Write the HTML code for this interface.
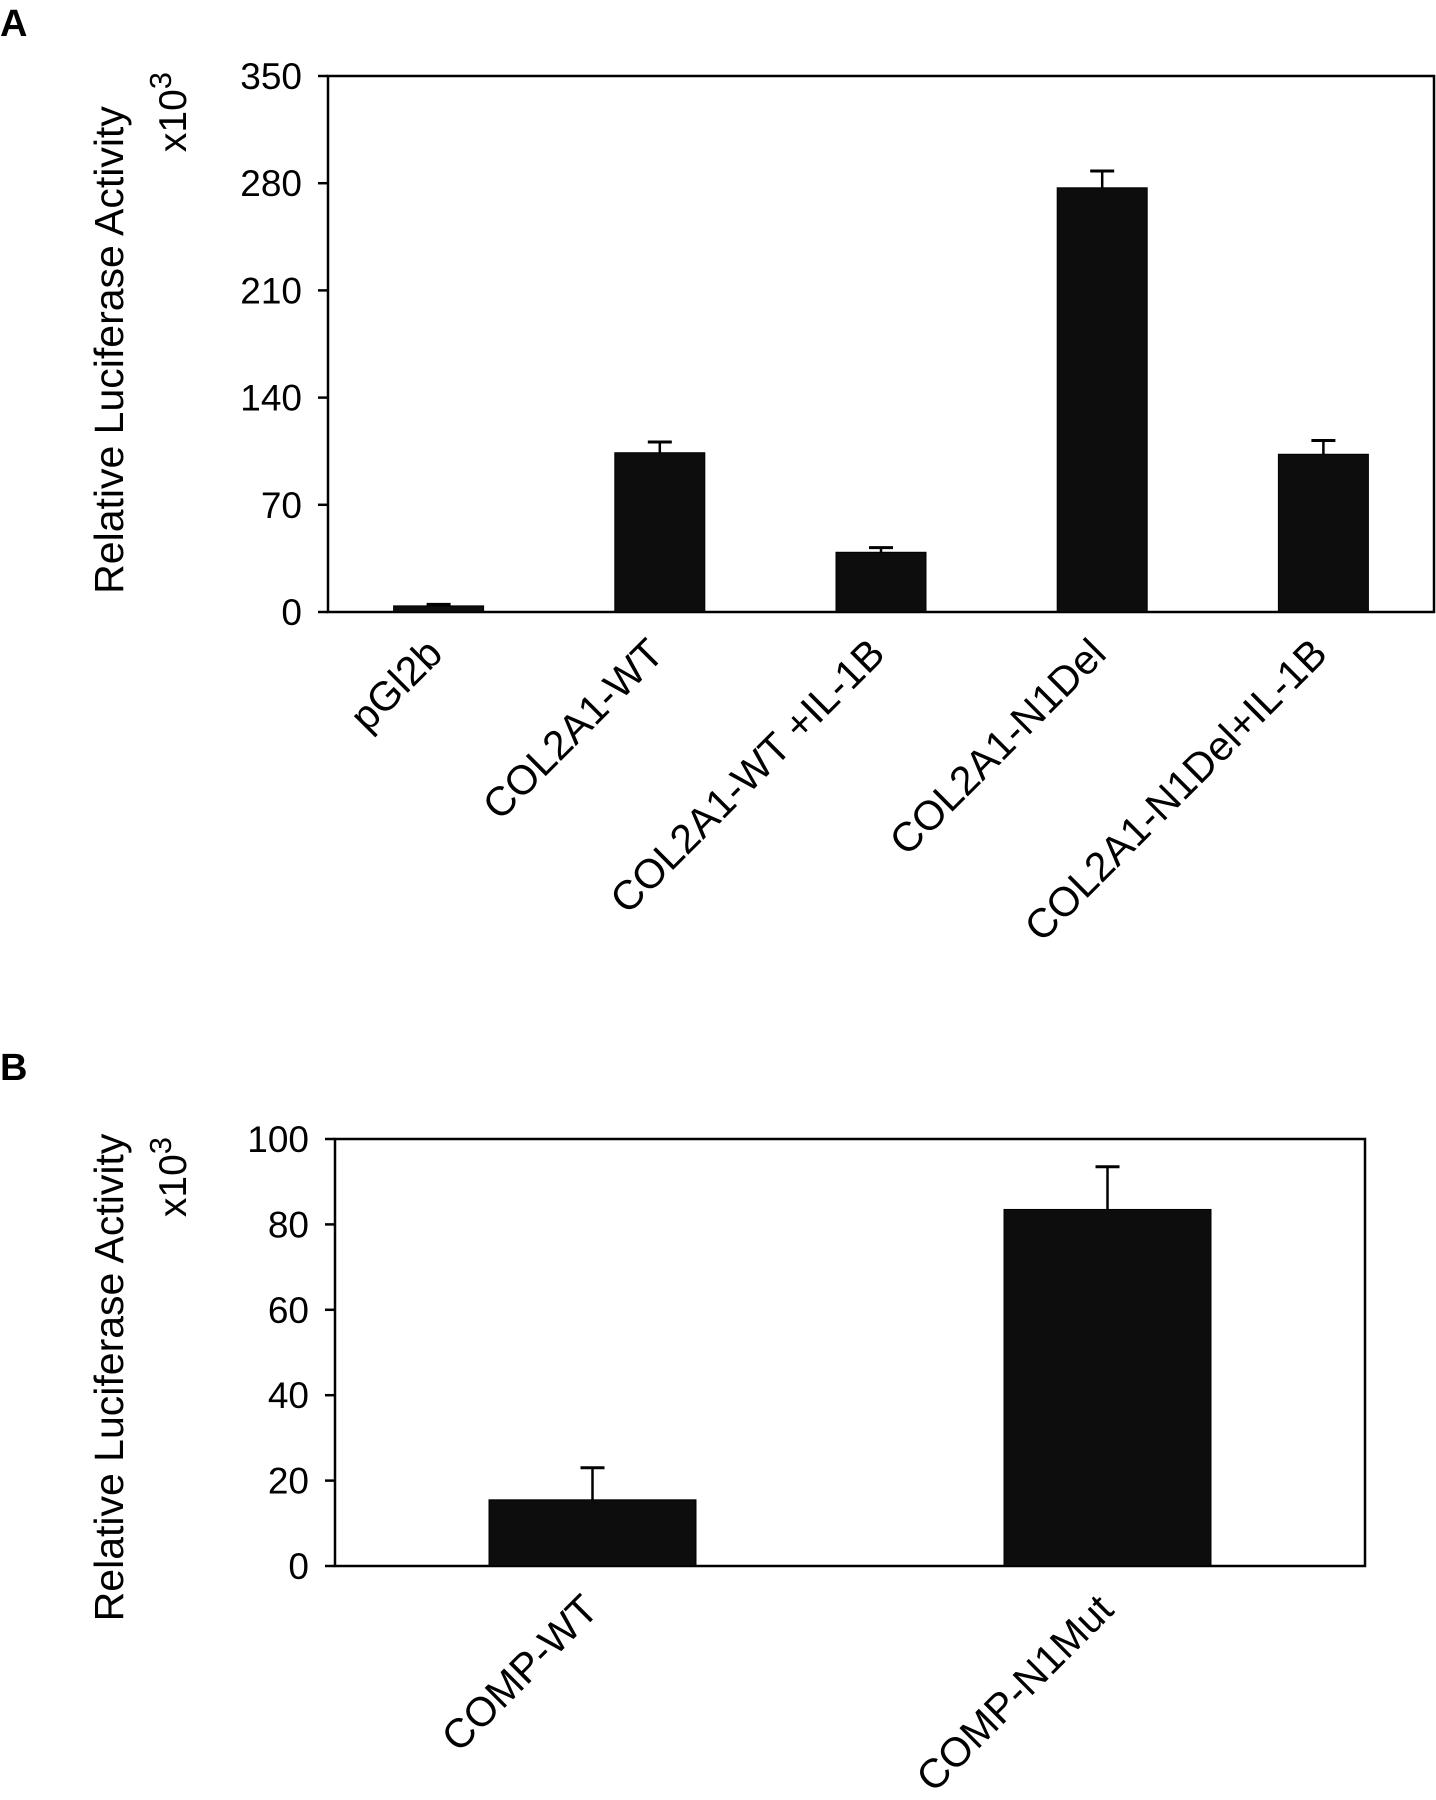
<!DOCTYPE html>
<html><head><meta charset="utf-8"><style>
html,body{margin:0;padding:0;background:#fff}
svg{display:block;font-family:"Liberation Sans",Arial,sans-serif}
</style></head><body>
<svg id="fig" width="1436" height="1800" viewBox="0 0 1436 1800">
<text x="0" y="36" font-size="38" font-weight="bold">A</text>
<text x="0" y="1080" font-size="38" font-weight="bold">B</text>
<g id="chartA"></g>
<g id="chartB"></g>
</svg>
<script>
const catsA=["pGl2b","COL2A1-WT","COL2A1-WT +IL-1B","COL2A1-N1Del","COL2A1-N1Del+IL-1B"];
const valsA=[4,104,39,277,103];
const errA=[5,111,42,288,112];
const ticksA=[0,70,140,210,280,350];
const catsB=["COMP-WT","COMP-N1Mut"];
const valsB=[15.5,83.5];
const errB=[23,93.5];
const ticksB=[0,20,40,60,80,100];
const NS="http://www.w3.org/2000/svg";
function mk(p,t,a){const e=document.createElementNS(NS,t);for(const k in a)e.setAttribute(k,a[k]);p.appendChild(e);return e;}
function draw(g,cfg,cats,vals,errs,ticks){
  const {x0,x1,y0,y1,max,bw,key}=cfg;
  const y=v=>y1-(v/max)*(y1-y0);
  const step=(x1-x0)/cats.length;
  const cx=i=>x0+step*(i+0.5);
  const f=mk(g,"rect",{x:x0,y:y0,width:x1-x0,height:y1-y0,fill:"none",stroke:"#000","stroke-width":2.5});
  
  
  ticks.forEach(t=>{
    const l=mk(g,"line",{x1:x0-10,x2:x0,y1:y(t),y2:y(t),stroke:"#000","stroke-width":2.5});
    
    
    const tx=mk(g,"text",{x:x0-26,y:y(t)+13,"font-size":37,"text-anchor":"end"});
    tx.textContent=t;
    
    
  });
  cats.forEach((c,i)=>{
    const e=mk(g,"line",{x1:cx(i),x2:cx(i),y1:y(errs[i]),y2:y(vals[i]),stroke:"#000","stroke-width":2.5});
    
    
    const cap=mk(g,"line",{x1:cx(i)-12,x2:cx(i)+12,y1:y(errs[i]),y2:y(errs[i]),stroke:"#000","stroke-width":3});
    
    
    const b=mk(g,"rect",{x:cx(i)-bw/2,y:y(vals[i]),width:bw,height:y(0)-y(vals[i]),fill:"#0d0d0d",stroke:"#000","stroke-width":1});
    
    
    const lx=cx(i)+cfg.lo, ly=y1+cfg.ld;
    const t=mk(g,"text",{x:lx,y:ly,"font-size":41,"text-anchor":"end",transform:`rotate(-45 ${lx} ${ly})`});
    t.textContent=c;
    
    
  });
  const ax=cfg.tx, ay=(y0+y1)/2+cfg.tyo;
  const yt=mk(g,"text",{x:ax,y:ay,"font-size":41,"text-anchor":"middle",transform:`rotate(-90 ${ax} ${ay})`});
  yt.textContent="Relative Luciferase Activity";
  
  
  const ux=cfg.ux, uy=cfg.uy;
  const u=mk(g,"text",{x:ux,y:uy,"font-size":39,"text-anchor":"middle",transform:`rotate(-90 ${ux} ${uy})`});
  u.innerHTML='x10<tspan dy="-15" font-size="31">3</tspan>';
  
  
}
draw(document.getElementById("chartA"),{x0:328,x1:1434,y0:76,y1:612,max:350,bw:90,key:"a",lo:6,ld:44,tx:123,tyo:6,ux:186,uy:112},catsA,valsA,errA,ticksA);
draw(document.getElementById("chartB"),{x0:335,x1:1365,y0:1139,y1:1566,max:100,bw:207,key:"b",lo:8,ld:46,tx:123,tyo:25,ux:186,uy:1177},catsB,valsB,errB,ticksB);
</script>
</body></html>
